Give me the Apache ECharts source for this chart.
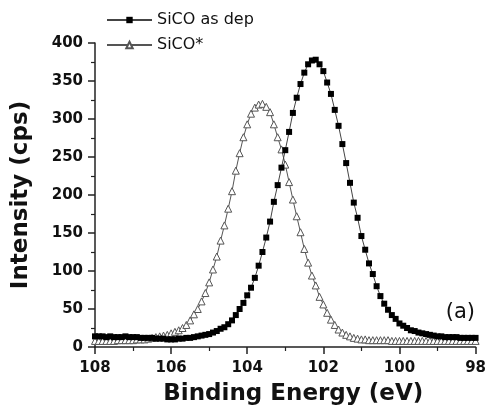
<!DOCTYPE html>
<html><head><meta charset="utf-8">
<script src="https://cdn.jsdelivr.net/npm/echarts@6/dist/echarts.min.js"></script>
<style>html,body{margin:0;padding:0;background:#fff}#c{width:489px;height:411px}</style>
</head><body><div id="c"></div>
<script>
var energy = [108.0,107.9,107.8,107.7,107.6,107.5,107.4,107.3,107.2,107.1,
107.0,106.9,106.8,106.7,106.6,106.5,106.4,106.3,106.2,106.1,
106.0,105.9,105.8,105.7,105.6,105.5,105.4,105.3,105.2,105.1,
105.0,104.9,104.8,104.7,104.6,104.5,104.4,104.3,104.2,104.1,
104.0,103.9,103.8,103.7,103.6,103.5,103.4,103.3,103.2,103.1,
103.0,102.9,102.8,102.7,102.6,102.5,102.4,102.3,102.2,102.1,
102.0,101.9,101.8,101.7,101.6,101.5,101.4,101.3,101.2,101.1,
101.0,100.9,100.8,100.7,100.6,100.5,100.4,100.3,100.2,100.1,
100.0,99.9,99.8,99.7,99.6,99.5,99.4,99.3,99.2,99.1,
99.0,98.9,98.8,98.7,98.6,98.5,98.4,98.3,98.2,98.1,
98.0];
var asDep = [14,14,14,13,14,13,13,13,14,13,
13,13,12,12,12,12,11,11,11,10,
10,10,11,11,12,12,13,14,15,16,
17,19,21,24,26,30,35,42,50,58,
68,78,91,107,125,144,165,191,213,236,
259,283,308,328,346,361,372,377,378,372,
363,348,333,312,291,267,242,216,190,170,
146,128,110,96,80,67,57,49,42,37,
31,28,25,22,21,19,18,17,16,15,
14,14,13,13,13,13,12,12,12,12,
12];
var sicoStar = [8,8,8,8,8,8,9,9,9,9,
9,10,10,10,11,12,13,14,15,16,
18,20,22,25,29,35,43,50,60,71,
85,102,119,140,160,182,205,232,255,276,
293,307,315,319,320,316,309,293,276,260,
240,217,194,172,151,129,111,94,81,66,
56,45,36,29,23,19,16,14,12,11,
10,10,9,9,9,9,9,9,8,8,
8,8,8,8,8,8,8,8,8,8,
8,8,8,8,8,8,8,8,8,8,
8];
var seriesNames = ['SiCO as dep', 'SiCO*'];
var xTitle = 'Binding Energy (eV)';
var yTitle = 'Intensity (cps)';
var panelLabel = '(a)';

function pairs(ys){ return energy.map(function(e,i){ return [e, ys[i]]; }); }

var chart = echarts.init(document.getElementById('c'), null, {renderer:'canvas'});
var axisCol = '#222';
chart.setOption({
  animation:false,
  backgroundColor:'#fff',
  grid:{left:95, right:12, top:43, bottom:59},
  legend:{
    data:seriesNames, orient:'vertical', left:106, top:12, padding:0,
    itemWidth:45, itemHeight:8, itemGap:9,
    textStyle:{fontFamily:'DejaVu Sans', fontSize:16, color:'#111'}
  },
  xAxis:{
    type:'value', min:98, max:108, interval:2, inverse:true,
    axisLine:{onZero:false, lineStyle:{color:axisCol, width:1.5}},
    axisTick:{show:true, length:7, lineStyle:{color:axisCol, width:1.5}},
    minorTick:{show:true, splitNumber:2, length:4, lineStyle:{color:axisCol, width:1.2}},
    splitLine:{show:false},
    axisLabel:{margin:14, fontFamily:'DejaVu Sans', fontWeight:'bold', fontSize:15, color:'#111'},
    name:xTitle, nameLocation:'middle', nameGap:36,
    nameTextStyle:{fontFamily:'DejaVu Sans', fontWeight:'bold', fontSize:23, color:'#111', padding:[0,0,0,16]}
  },
  yAxis:{
    type:'value', min:0, max:400, interval:50,
    axisLine:{show:true, lineStyle:{color:axisCol, width:1.5}},
    axisTick:{show:true, length:7, lineStyle:{color:axisCol, width:1.5}},
    minorTick:{show:true, splitNumber:2, length:4, lineStyle:{color:axisCol, width:1.2}},
    splitLine:{show:false},
    axisLabel:{margin:12, fontFamily:'DejaVu Sans', fontWeight:'bold', fontSize:15, color:'#111'},
    name:yTitle, nameLocation:'middle', nameGap:62, nameRotate:90,
    nameTextStyle:{fontFamily:'DejaVu Sans', fontWeight:'bold', fontSize:23, color:'#111'}
  },
  graphic:[{
    type:'text', right:14, top:302,
    style:{text:panelLabel, fontFamily:'DejaVu Sans', fontSize:21, fill:'#111'}
  }],
  series:[
    {
      name:seriesNames[1], type:'line', data:pairs(sicoStar),
      symbol:'triangle', symbolSize:7, showSymbol:true, showAllSymbol:true,
      lineStyle:{color:'#555', width:1},
      itemStyle:{color:'#fff', borderColor:'#555', borderWidth:1},
      z:2
    },
    {
      name:seriesNames[0], type:'line', data:pairs(asDep),
      symbol:'rect', symbolSize:6, showSymbol:true, showAllSymbol:true,
      lineStyle:{color:'#444', width:1},
      itemStyle:{color:'#000', borderColor:'#000', borderWidth:0},
      z:3
    }
  ]
});
</script></body></html>
